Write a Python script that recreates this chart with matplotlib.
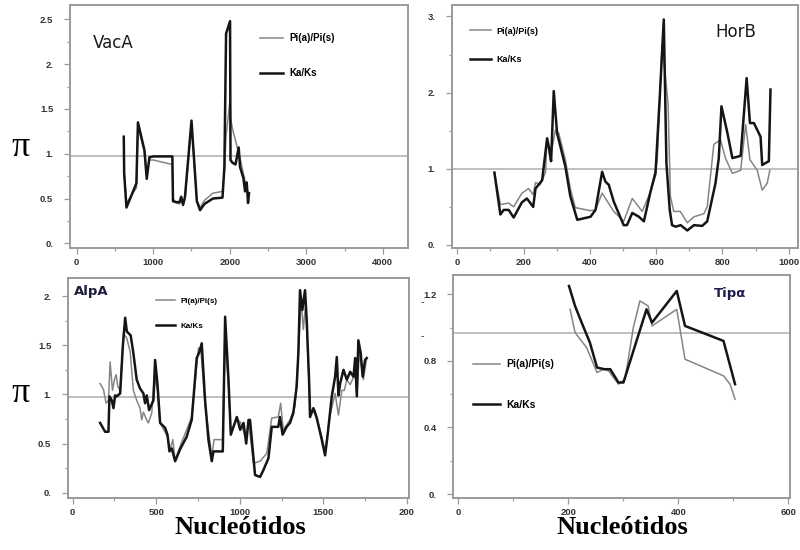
import numpy as np
import matplotlib
matplotlib.use("Agg")
import matplotlib.pyplot as plt
from matplotlib.ticker import FixedLocator, MultipleLocator

# ---- data ----
vacX = [615, 620, 650, 780, 800, 885, 915, 950, 1000, 1250, 1258, 1300, 1345, 1365, 1390,
        1415, 1500, 1570, 1612, 1670, 1780, 1905, 1930, 1952, 2004, 2010, 2035, 2075, 2117, 2135,
        2178, 2200, 2222, 2239, 2252]
vacKa = [1.19, 0.78, 0.40, 0.67, 1.35, 1.04, 0.72, 0.96, 0.97, 0.97, 0.47, 0.46, 0.46, 0.52, 0.43,
         0.52, 1.37, 0.47, 0.37, 0.44, 0.50, 0.51, 0.85, 2.34, 2.48, 0.93, 0.90, 0.88, 1.07, 0.85,
         0.73, 0.58, 0.68, 0.45, 0.56]
vacPi = [1.15, 0.80, 0.45, 0.62, 1.30, 1.02, 0.75, 0.93, 0.93, 0.88, 0.50, 0.45, 0.44, 0.50, 0.42,
         0.50, 1.33, 0.48, 0.40, 0.48, 0.56, 0.58, 0.80, 1.20, 1.60, 1.40, 1.28, 1.15, 1.00, 0.95,
         0.78, 0.70, 0.63, 0.55, 0.52]

horKaX = [112, 130, 140, 155, 170, 195, 210, 229, 236, 256, 271, 278, 283, 291, 301,
          326, 341, 362, 402, 417, 437, 447, 457, 472, 502, 512, 528, 548, 563, 583,
          598, 611, 623, 631, 641, 648, 659, 674, 694, 714, 739, 754, 779, 789, 797,
          815, 830, 855, 873, 883, 895, 915, 920, 940, 945]
horKa = [0.95, 0.40, 0.46, 0.46, 0.36, 0.56, 0.61, 0.50, 0.74, 0.85, 1.40, 1.25, 1.10, 2.02, 1.47,
         1.03, 0.64, 0.33, 0.37, 0.46, 0.96, 0.83, 0.79, 0.57, 0.26, 0.26, 0.42, 0.37, 0.31, 0.70,
         0.94, 1.95, 2.96, 1.07, 0.46, 0.26, 0.24, 0.26, 0.19, 0.26, 0.25, 0.31, 0.81, 1.14, 1.82,
         1.47, 1.14, 1.17, 2.19, 1.60, 1.60, 1.42, 1.05, 1.10, 2.04]
horPiX = [112, 130, 155, 170, 195, 215, 229, 236, 250, 266, 271, 280, 296, 306, 326,
          341, 356, 402, 417, 437, 472, 502, 528, 558, 583, 603, 618, 636, 643, 653,
          673, 694, 714, 744, 754, 774, 794, 809, 830, 855, 870, 883, 905, 920, 935, 943]
horPi = [0.95, 0.53, 0.55, 0.50, 0.68, 0.74, 0.66, 0.82, 0.79, 0.95, 1.40, 1.12, 1.51, 1.47, 1.12,
         0.74, 0.49, 0.45, 0.46, 0.68, 0.44, 0.31, 0.61, 0.44, 0.70, 1.10, 2.65, 1.85, 0.64, 0.44,
         0.44, 0.29, 0.37, 0.41, 0.50, 1.32, 1.38, 1.14, 0.94, 0.98, 1.58, 1.12, 0.98, 0.72, 0.81, 0.98]

alpKaX = [164, 194, 214, 220, 234, 244, 254, 264, 284, 300, 314, 324, 347, 363, 383,
          403, 423, 433, 443, 457, 483, 493, 507, 523, 553, 567, 579, 593, 613, 642,
          682, 712, 742, 758, 772, 792, 812, 832, 842, 898, 912, 932, 946, 962, 982,
          1002, 1022, 1038, 1052, 1061, 1091, 1121, 1141, 1171, 1191, 1230, 1240, 1256, 1280, 1300,
          1320, 1340, 1350, 1360, 1374, 1390, 1400, 1414, 1420, 1440, 1460, 1490, 1510, 1524, 1550,
          1570, 1580, 1590, 1600, 1620, 1640, 1660, 1680, 1690, 1700, 1709, 1723, 1735, 1749, 1759]
alpKa = [0.71, 0.62, 0.62, 0.98, 0.94, 0.86, 0.99, 0.98, 1.01, 1.49, 1.78, 1.64, 1.60, 1.42, 1.15,
         1.06, 1.01, 0.91, 0.99, 0.84, 0.94, 1.35, 1.11, 0.71, 0.66, 0.59, 0.42, 0.45, 0.32, 0.44,
         0.57, 0.74, 1.37, 1.43, 1.52, 0.94, 0.54, 0.32, 0.42, 0.42, 1.79, 1.15, 0.59, 0.67, 0.77,
         0.64, 0.71, 0.50, 0.74, 0.74, 0.18, 0.16, 0.23, 0.35, 0.67, 0.67, 0.77, 0.59, 0.67, 0.71,
         0.81, 1.08, 1.42, 2.06, 1.86, 2.06, 1.76, 1.15, 0.77, 0.86, 0.76, 0.54, 0.38, 0.57, 0.98,
         1.18, 1.38, 0.99, 1.11, 1.25, 1.15, 1.23, 1.18, 1.37, 0.98, 1.55, 1.42, 1.18, 1.35, 1.37]
alpPiX = [164, 184, 200, 214, 224, 238, 250, 260, 270, 284, 304, 324, 344, 363, 383,
          403, 413, 423, 443, 453, 473, 489, 507, 523, 567, 583, 599, 613, 642, 712,
          752, 766, 792, 832, 846, 898, 912, 932, 946, 982, 1002, 1038, 1052, 1081, 1121,
          1161, 1191, 1230, 1244, 1260, 1300, 1330, 1350, 1366, 1380, 1394, 1410, 1424, 1450, 1490,
          1510, 1540, 1570, 1590, 1610, 1625, 1640, 1660, 1690, 1700, 1715, 1739, 1759]
alpPi = [1.11, 1.05, 0.91, 0.94, 1.33, 1.04, 1.15, 1.20, 1.08, 1.04, 1.62, 1.57, 1.43, 1.04, 0.94,
         0.86, 0.74, 0.82, 0.74, 0.71, 0.81, 1.18, 1.04, 0.71, 0.57, 0.44, 0.54, 0.33, 0.47, 0.77,
         1.47, 1.47, 0.90, 0.37, 0.54, 0.54, 1.55, 1.10, 0.62, 0.75, 0.72, 0.55, 0.72, 0.30, 0.32,
         0.40, 0.76, 0.77, 0.91, 0.64, 0.74, 0.88, 1.40, 1.96, 1.66, 1.93, 1.28, 0.81, 0.84, 0.57,
         0.42, 0.79, 1.01, 0.79, 1.04, 1.04, 1.15, 1.10, 1.21, 0.98, 1.42, 1.15, 1.37]

tipKaX = [201, 212, 224, 239, 252, 265, 276, 291, 300, 342, 352, 397, 412, 482, 503]
tipKa = [1.25, 1.13, 1.03, 0.91, 0.76, 0.75, 0.75, 0.67, 0.67, 1.11, 1.03, 1.22, 1.01, 0.92, 0.66]
tipPiX = [203, 212, 233, 252, 264, 273, 291, 303, 318, 330, 345, 352, 397, 412, 482, 494, 503]
tipPi = [1.11, 0.97, 0.88, 0.73, 0.75, 0.74, 0.66, 0.69, 1.00, 1.16, 1.13, 1.01, 1.11, 0.81, 0.71, 0.66, 0.57]

# tick labels per panel
vacYTicks = [0, 0.5, 1, 1.5, 2, 2.5]
vacYLabels = ["0.", "0.5", "1.", "1.5", "2.", "2.5"]
vacXTicks = [0, 1000, 2000, 3000, 4000]
horYTicks = [0, 1, 2, 3]
horYLabels = ["0.", "1.", "2.", "3."]
horXTicks = [0, 200, 400, 600, 800, 1000]
alpYTicks = [0, 0.5, 1, 1.5, 2]
alpYLabels = ["0.", "0.5", "1.", "1.5", "2."]
alpXTicks = [0, 500, 1000, 1500, 2000]
alpXLabels = ["0", "500", "1000", "1500", "200"]
tipYTicks = [0, 0.4, 0.8, 1.2]
tipYLabels = ["0.", "0.4", "0.8", "1.2"]
tipXTicks = [0, 200, 400, 600]

kaColor = "#151515"
piColor = "#858585"
refColor = "#b4b4b4"
spineColor = "#9a9a9a"
tickFont = {"family": "Liberation Sans", "weight": "bold", "size": 6.8}

fig = plt.figure(figsize=(8, 5.5), dpi=100)


def box(l, t, r, b):
    # pixel box -> figure fraction
    return [l / 800, 1 - b / 550, (r - l) / 800, (b - t) / 550]


def makePanel(rect, xlim, ylim, xticks, xminor, yticks, ylabels, yminor, refY, xlabels=None):
    ax = fig.add_axes(rect)
    ax.set_xlim(*xlim)
    ax.set_ylim(*ylim)
    for s in ax.spines.values():
        s.set_color(spineColor)
        s.set_linewidth(1.4)
    ax.xaxis.set_major_locator(FixedLocator(xticks))
    ax.xaxis.set_minor_locator(MultipleLocator(xminor))
    ax.yaxis.set_major_locator(FixedLocator(yticks))
    ax.yaxis.set_minor_locator(MultipleLocator(yminor))
    ax.set_yticklabels(ylabels, fontdict=tickFont, color="#333333")
    if xlabels is None:
        xlabels = [str(t) for t in xticks]
    ax.set_xticklabels(xlabels, fontdict=tickFont, color="#333333")
    ax.tick_params(which="major", direction="out", length=4, width=0.9, color=spineColor)
    ax.tick_params(which="minor", direction="out", length=2.5, width=0.9, color=spineColor)
    ax.tick_params(axis="y", which="major", pad=8)
    ax.tick_params(axis="x", which="major", pad=3)
    ax.axhline(refY, color=refColor, lw=1.2, zorder=1)
    return ax


# VacA
ax1 = makePanel(box(70, 5, 408, 248), (-88, 4330), (-0.052, 2.66), vacXTicks, 500,
                vacYTicks, vacYLabels, 0.25, 0.97)
ax1.plot(vacX, vacPi, color=piColor, lw=1.1, label="Pi(a)/Pi(s)")
ax1.plot(vacX, vacKa, color=kaColor, lw=1.8, label="Ka/Ks")
ax1.text(0.068, 0.845, "VacA", transform=ax1.transAxes, fontsize=12, family="DejaVu Sans",
         va="center", color="#1a1a1a")
ax1.legend(loc="upper left", bbox_to_anchor=(0.547, 0.905), frameon=False, borderpad=0,
           handlelength=2.4, handletextpad=0.6, labelspacing=2.6,
           prop={"family": "Liberation Sans", "weight": "bold", "size": 7})

# HorB
ax2 = makePanel(box(452, 5, 798, 248), (-16, 1028), (-0.04, 3.15), horXTicks, 100,
                horYTicks, horYLabels, 0.5, 1.0)
ax2.plot(horPiX, horPi, color=piColor, lw=1.1, label="Pi(a)/Pi(s)")
ax2.plot(horKaX, horKa, color=kaColor, lw=1.8, label="Ka/Ks")
ax2.text(0.76, 0.89, "HorB", transform=ax2.transAxes, fontsize=12, family="DejaVu Sans",
         va="center", color="#1a1a1a")
ax2.legend(loc="upper left", bbox_to_anchor=(0.038, 0.93), frameon=False, borderpad=0,
           handlelength=2.4, handletextpad=0.6, labelspacing=2.2,
           prop={"family": "Liberation Sans", "weight": "bold", "size": 6.5})

# AlpA
ax3 = makePanel(box(68, 278, 409, 498), (-28, 2012), (-0.054, 2.184), alpXTicks, 250,
                alpYTicks, alpYLabels, 0.25, 0.975, xlabels=alpXLabels)
ax3.plot(alpPiX, alpPi, color=piColor, lw=1.1, label="Pi(a)/Pi(s)")
ax3.plot(alpKaX, alpKa, color=kaColor, lw=1.8, label="Ka/Ks")
ax3.text(0.018, 0.94, "AlpA", transform=ax3.transAxes, fontsize=9.5, family="DejaVu Sans",
         weight="bold", va="center", color="#1c1c3c")
ax3.legend(loc="upper left", bbox_to_anchor=(0.246, 0.93), frameon=False, borderpad=0,
           handlelength=2.4, handletextpad=0.6, labelspacing=2.1,
           prop={"family": "Liberation Sans", "weight": "bold", "size": 5.8})

# Tip alpha
ax4 = makePanel(box(453, 275, 790, 498), (-10, 603), (-0.024, 1.316), tipXTicks, 100,
                tipYTicks, tipYLabels, 0.2, 0.97)
ax4.plot(tipPiX, tipPi, color=piColor, lw=1.1, label="Pi(a)/Pi(s)")
ax4.plot(tipKaX, tipKa, color=kaColor, lw=1.8, label="Ka/Ks")
ax4.text(0.775, 0.915, "Tip\u03b1", transform=ax4.transAxes, fontsize=9.5, family="DejaVu Sans",
         weight="bold", va="center", color="#1f1f4f")
ax4.legend(loc="upper left", bbox_to_anchor=(0.045, 0.645), frameon=False, borderpad=0,
           handlelength=2.6, handletextpad=0.6, labelspacing=2.9,
           prop={"family": "Liberation Sans", "weight": "bold", "size": 7.5})

# pi labels and x titles
fig.text(21 / 800, 1 - 148 / 550, "\u03c0", fontsize=26, family="Liberation Serif",
         ha="center", va="center", color="black")
fig.text(21 / 800, 1 - 393 / 550, "\u03c0", fontsize=26, family="Liberation Serif",
         ha="center", va="center", color="black")
fig.text(240 / 800, 1 - 528 / 550, "Nucleótidos", fontsize=19, family="Liberation Serif",
         weight="bold", ha="center", va="center", color="black")
fig.text(622 / 800, 1 - 528 / 550, "Nucleótidos", fontsize=19, family="Liberation Serif",
         weight="bold", ha="center", va="center", color="black")
# stray dashes left of the Tip panel
fig.text(422 / 800, 1 - 302 / 550, "-", fontsize=7, color="#333333", ha="center", va="center")
fig.text(422 / 800, 1 - 336 / 550, "-", fontsize=7, color="#333333", ha="center", va="center")

fig.savefig("out.png", dpi=100)
